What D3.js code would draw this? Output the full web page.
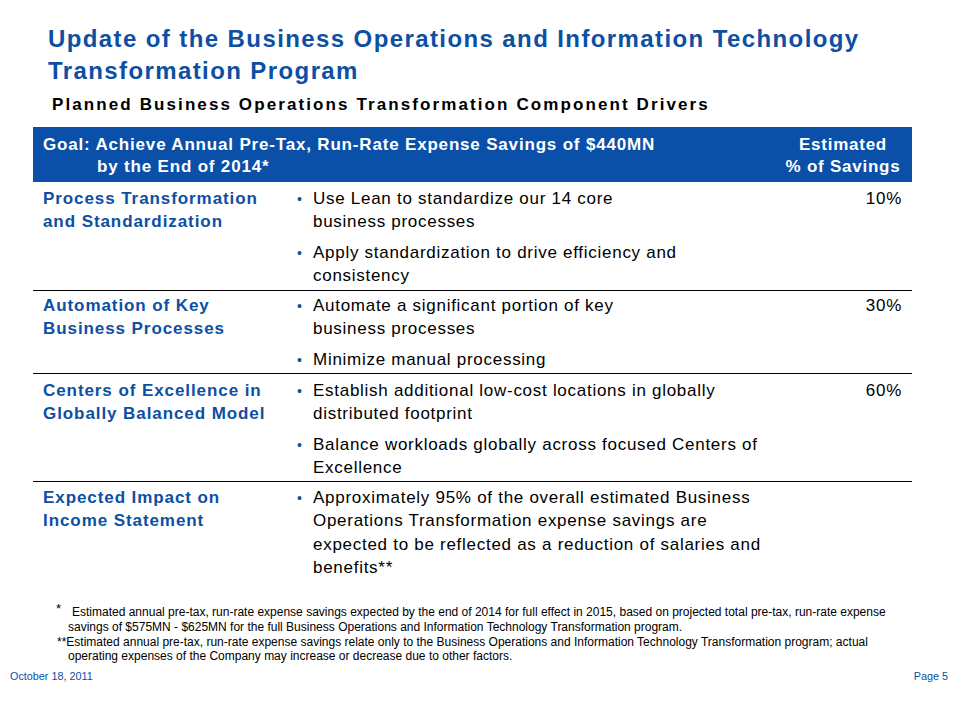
<!DOCTYPE html>
<html><head><meta charset="utf-8">
<script src="https://cdn.jsdelivr.net/npm/d3@7"></script>
<style>
body{margin:0;background:#fff;}
svg text{font-family:"Liberation Sans",Arial,sans-serif;}
</style></head>
<body><div id="chart"></div>
<script>
const titleLines = ["Update of the Business Operations and Information Technology", "Transformation Program"];
const subtitle = "Planned Business Operations Transformation Component Drivers";
const headerLeft = ["Goal: Achieve Annual Pre-Tax, Run-Rate Expense Savings of $440MN", "by the End of 2014*"];
const headerRight = ["Estimated", "% of Savings"];
const rowLabels = [
  ["Process Transformation", "and Standardization"],
  ["Automation of Key", "Business Processes"],
  ["Centers of Excellence in", "Globally Balanced Model"],
  ["Expected Impact on", "Income Statement"]
];
const rowBullets = [
  [["Use Lean to standardize our 14 core", "business processes"], ["Apply standardization to drive efficiency and", "consistency"]],
  [["Automate a significant portion of key", "business processes"], ["Minimize manual processing"]],
  [["Establish additional low-cost locations in globally", "distributed footprint"], ["Balance workloads globally across focused Centers of", "Excellence"]],
  [["Approximately 95% of the overall estimated Business", "Operations Transformation expense savings are", "expected to be reflected as a reduction of salaries and", "benefits**"]]
];
const savingsPct = ["10%", "30%", "60%", ""];
const footnotes = [
  {mark: "*", lines: ["Estimated annual pre-tax, run-rate expense savings expected by the end of 2014 for full effect in 2015, based on projected total pre-tax, run-rate expense", "savings of $575MN - $625MN for the full Business Operations and Information Technology Transformation program."]},
  {mark: "**", lines: ["Estimated annual pre-tax, run-rate expense savings relate only to the Business Operations and Information Technology Transformation program; actual", "operating expenses of the Company may increase or decrease due to other factors."]}
];
const dateText = "October 18, 2011";
const pageText = "Page 5";

const W = 960, H = 720;
const blue = "#0c4fa3", band = "#0a50a8";
const svg = d3.select("#chart").append("svg").attr("width", W).attr("height", H);

// Title
svg.append("g").selectAll("text").data(titleLines).join("text")
  .attr("x", 48).attr("y", (d,i) => 47 + i*32)
  .attr("fill", blue).attr("font-size", 24).attr("font-weight", "bold")
  .attr("letter-spacing", 1.4).text(d => d);
svg.append("text").attr("x", 52).attr("y", 110).attr("font-size", 17).attr("font-weight", "bold")
  .attr("letter-spacing", 2.1).attr("fill", "#000").text(subtitle);

// Header band
const tx0 = 33, tx1 = 912;
svg.append("rect").attr("x", tx0).attr("y", 127).attr("width", tx1 - tx0).attr("height", 55).attr("fill", band);
svg.append("g").selectAll("text").data(headerLeft).join("text")
  .attr("x", (d,i) => i === 0 ? 43 : 97).attr("y", (d,i) => 150 + i*22)
  .attr("fill", "#fff").attr("font-size", 17).attr("font-weight", "bold")
  .attr("letter-spacing", 0.82).text(d => d);
svg.append("g").selectAll("text").data(headerRight).join("text")
  .attr("x", 843).attr("y", (d,i) => 150 + i*22).attr("text-anchor", "middle")
  .attr("fill", "#fff").attr("font-size", 17).attr("font-weight", "bold")
  .attr("letter-spacing", 0.75).text(d => d);

// Rows
const lineH = 23.3, bulletGap = 7;
const rowTops = [204, 311, 396, 503];
const sepY = [290, 373, 481];
const rows = svg.append("g").selectAll("g").data(rowLabels.map((l,i) => ({label: l, bullets: rowBullets[i], pct: savingsPct[i], y: rowTops[i]}))).join("g");
rows.each(function(r) {
  const g = d3.select(this);
  g.selectAll("text.lbl").data(r.label).join("text").attr("class", "lbl")
    .attr("x", 43).attr("y", (d,i) => r.y + i*lineH)
    .attr("fill", blue).attr("font-size", 17).attr("font-weight", "bold")
    .attr("letter-spacing", 0.92).text(d => d);
  let y = r.y;
  r.bullets.forEach(b => {
    g.append("text").attr("x", 297).attr("y", y).attr("fill", blue).attr("font-size", 14).text("•");
    b.forEach((ln, j) => {
      g.append("text").attr("x", 313).attr("y", y + j*lineH).attr("font-size", 17)
        .attr("letter-spacing", 0.72).attr("fill", "#000").text(ln);
    });
    y += b.length*lineH + bulletGap;
  });
  g.append("text").attr("x", 902).attr("y", r.y).attr("text-anchor", "end").attr("font-size", 17)
    .attr("letter-spacing", 0.72).attr("fill", "#000").text(r.pct);
});
svg.append("g").selectAll("line").data(sepY).join("line")
  .attr("x1", tx0).attr("x2", tx1).attr("y1", d => d + 0.5).attr("y2", d => d + 0.5)
  .attr("stroke", "#000").attr("stroke-width", 1);

// Footnotes
const fn = svg.append("g").attr("font-size", 12).attr("fill", "#000");
fn.append("text").attr("x", 56).attr("y", 613).attr("font-size", 13).text(footnotes[0].mark);
fn.append("text").attr("x", 72).attr("y", 616).text(footnotes[0].lines[0]);
fn.append("text").attr("x", 68).attr("y", 631).text(footnotes[0].lines[1]);
fn.append("text").attr("x", 57).attr("y", 646).text(footnotes[1].mark + footnotes[1].lines[0]);
fn.append("text").attr("x", 68).attr("y", 660).text(footnotes[1].lines[1]);

svg.append("text").attr("x", 10).attr("y", 680).attr("font-size", 10.8).attr("fill", blue).text(dateText);
svg.append("text").attr("x", 948).attr("y", 680).attr("text-anchor", "end").attr("font-size", 10.8).attr("fill", blue).text(pageText);
</script></body></html>
